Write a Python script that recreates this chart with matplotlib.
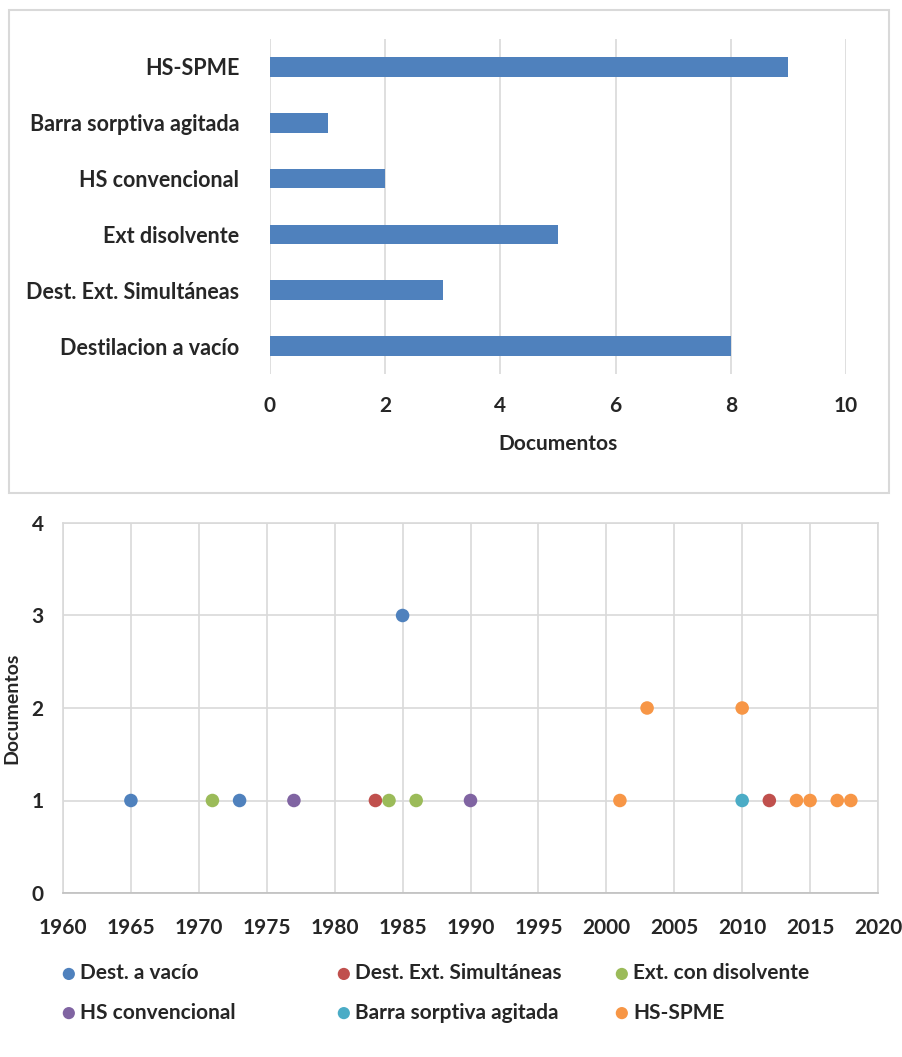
import matplotlib.pyplot as plt
from matplotlib.patches import Rectangle

plt.rcParams['font.family'] = ['Lato', 'DejaVu Sans']
plt.rcParams['font.weight'] = 'bold'
plt.rcParams['axes.labelweight'] = 'bold'

# Documentos por técnica de extracción
tecnicas = ['Destilacion a vacío', 'Dest. Ext. Simultáneas', 'Ext disolvente',
            'HS convencional', 'Barra sorptiva agitada', 'HS-SPME']
documentos = [8, 3, 5, 2, 1, 9]

# Documentos por año y técnica
series_nombres = ['Dest. a vacío', 'Dest. Ext. Simultáneas', 'Ext. con disolvente',
                  'HS convencional', 'Barra sorptiva agitada', 'HS-SPME']
series_colores = ['#4F81BD', '#C0504D', '#9BBB59', '#8064A2', '#4BACC6', '#F79646']
anios_vacio = [1965, 1973, 1985]
docs_vacio = [1, 1, 3]
anios_simult = [1983, 2012]
docs_simult = [1, 1]
anios_disolv = [1971, 1984, 1986]
docs_disolv = [1, 1, 1]
anios_hsconv = [1977, 1990]
docs_hsconv = [1, 1]
anios_barra = [2010]
docs_barra = [1]
anios_spme = [2001, 2003, 2010, 2014, 2015, 2017, 2018]
docs_spme = [1, 2, 2, 1, 1, 1, 1]

series = [(anios_vacio, docs_vacio), (anios_simult, docs_simult),
          (anios_disolv, docs_disolv), (anios_hsconv, docs_hsconv),
          (anios_barra, docs_barra), (anios_spme, docs_spme)]

W, H = 902, 1057
fig = plt.figure(figsize=(W / 100, H / 100), dpi=100)
grid_color = '#D9D9D9'
text_color = '#262626'

# marco del gráfico de barras
fig.add_artist(Rectangle((9 / W, 1 - 493 / H), 880 / W, 483 / H,
                         transform=fig.transFigure, fill=False,
                         edgecolor='#D9D9D9', linewidth=1.5))

# --- gráfico de barras ---
ax1 = fig.add_axes([270 / W, 1 - 374 / H, 576 / W, 335 / H])
ax1.barh(range(len(tecnicas)), documentos, height=0.35, color='#4F81BD')
ax1.set_xlim(0, 10)
ax1.set_ylim(-0.5, len(tecnicas) - 0.5)
ax1.set_xticks(range(0, 11, 2))
ax1.set_yticks(range(len(tecnicas)))
ax1.set_yticklabels(tecnicas)
ax1.grid(axis='x', color=grid_color, linewidth=1.2)
ax1.set_axisbelow(True)
for s in ax1.spines.values():
    s.set_visible(False)
ax1.tick_params(axis='y', length=0, labelsize=15.5, colors=text_color, pad=22)
ax1.tick_params(axis='x', length=0, labelsize=15, colors=text_color, pad=16)
ax1.set_xlabel('Documentos', fontsize=15, color=text_color, labelpad=13)

# --- gráfico de dispersión ---
ax2 = fig.add_axes([63 / W, 1 - 893 / H, 815 / W, 370 / H])
handles = []
for (x, y), nombre, color in zip(series, series_nombres, series_colores):
    h = ax2.scatter(x, y, s=95, color=color, label=nombre, zorder=3,
                    edgecolors='none')
    handles.append(h)
ax2.set_xlim(1960, 2020)
ax2.set_ylim(0, 4)
ax2.set_xticks(range(1960, 2021, 5))
ax2.set_yticks(range(0, 5))
ax2.grid(color=grid_color, linewidth=1.2)
ax2.set_axisbelow(True)
for nombre, s in ax2.spines.items():
    s.set_color(grid_color)
    s.set_linewidth(1.2)
ax2.spines['bottom'].set_color('#BFBFBF')
ax2.tick_params(length=0, labelsize=15, colors=text_color)
ax2.tick_params(axis='x', pad=18)
ax2.tick_params(axis='y', pad=14)
ax2.set_ylabel('Documentos', fontsize=14, color=text_color, labelpad=8)

# leyenda en tres columnas bajo el gráfico
col_x = [48, 323, 601]
for j in range(3):
    hs = [handles[j], handles[j + 3]]
    labs = [series_nombres[j], series_nombres[j + 3]]
    fig.legend(hs, labs, loc='upper left',
               bbox_to_anchor=(col_x[j] / W, 1 - 953 / H),
               frameon=False, fontsize=15, handletextpad=0.05,
               labelspacing=0.92, markerscale=0.9, borderpad=0,
               handlelength=1.0, labelcolor=text_color)

fig.savefig('out.png', dpi=100, facecolor='white')
